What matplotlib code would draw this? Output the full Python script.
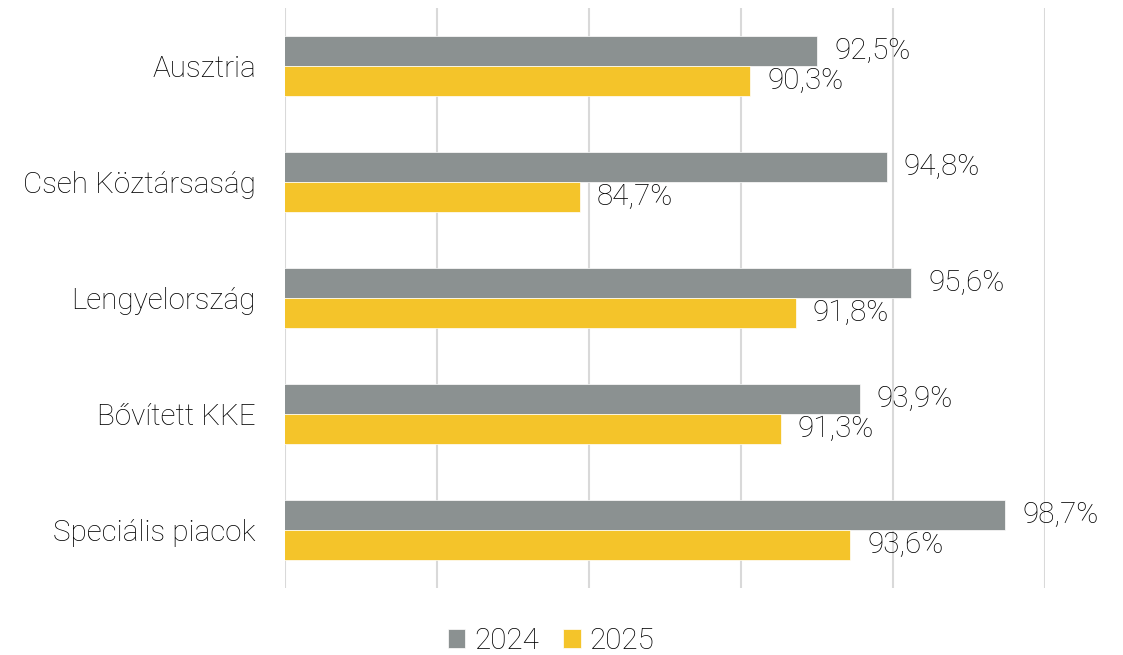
import matplotlib
matplotlib.use("Agg")
import matplotlib.pyplot as plt
import numpy as np

plt.rcParams['font.family'] = ['Roboto', 'DejaVu Sans']
plt.rcParams['font.weight'] = 'light'

categories = ["Ausztria", "Cseh Köztársaság", "Lengyelország", "Bővített KKE", "Speciális piacok"]
values_2024 = [92.5, 94.8, 95.6, 93.9, 98.7]
values_2025 = [90.3, 84.7, 91.8, 91.3, 93.6]
series_labels = ["2024", "2025"]

gray = "#8b9191"
yellow = "#f4c42a"
txt = "#000000"
fs = 21.3

fig = plt.figure(figsize=(11.23, 6.55), dpi=100)
ax = fig.add_axes([285 / 1123, 1 - 588 / 655, 760 / 1123, 580 / 655])

y = np.arange(len(categories))
h = 0.26
b1 = ax.barh(y - h / 2, values_2024, height=h, color=gray, label=series_labels[0],
             edgecolor="white", linewidth=0.5)
b2 = ax.barh(y + h / 2, values_2025, height=h, color=yellow, label=series_labels[1],
             edgecolor="white", linewidth=0.5)

for bars, vals in [(b1, values_2024), (b2, values_2025)]:
    for rect, v in zip(bars, vals):
        ax.annotate(f"{v:.1f}%".replace(".", ","),
                    (rect.get_width(), rect.get_y() + rect.get_height() / 2),
                    xytext=(17, 0), textcoords="offset pixels",
                    va="center", ha="left", fontsize=fs, color=txt)

ax.set_xlim(75, 100)
ax.set_ylim(len(categories) - 0.5, -0.5)
ax.set_xticks([75, 80, 85, 90, 95, 100])
ax.set_xticklabels([])
ax.set_yticks(y)
ax.set_yticklabels(categories, fontsize=fs, color=txt)
ax.tick_params(axis="both", length=0)
ax.tick_params(axis="y", pad=21)
ax.grid(axis="x", color="#d9d9d9", linewidth=1.5)
ax.set_axisbelow(True)
for s in ax.spines.values():
    s.set_visible(False)

fig.legend(handles=[b1, b2], labels=series_labels, loc="center", bbox_to_anchor=(551 / 1123, 1 - 641 / 655),
           ncol=2, frameon=False, fontsize=fs, handlelength=0.6, handleheight=0.6,
           handletextpad=0.3, columnspacing=0.8, labelcolor=txt)

fig.savefig("out.png", dpi=100)
